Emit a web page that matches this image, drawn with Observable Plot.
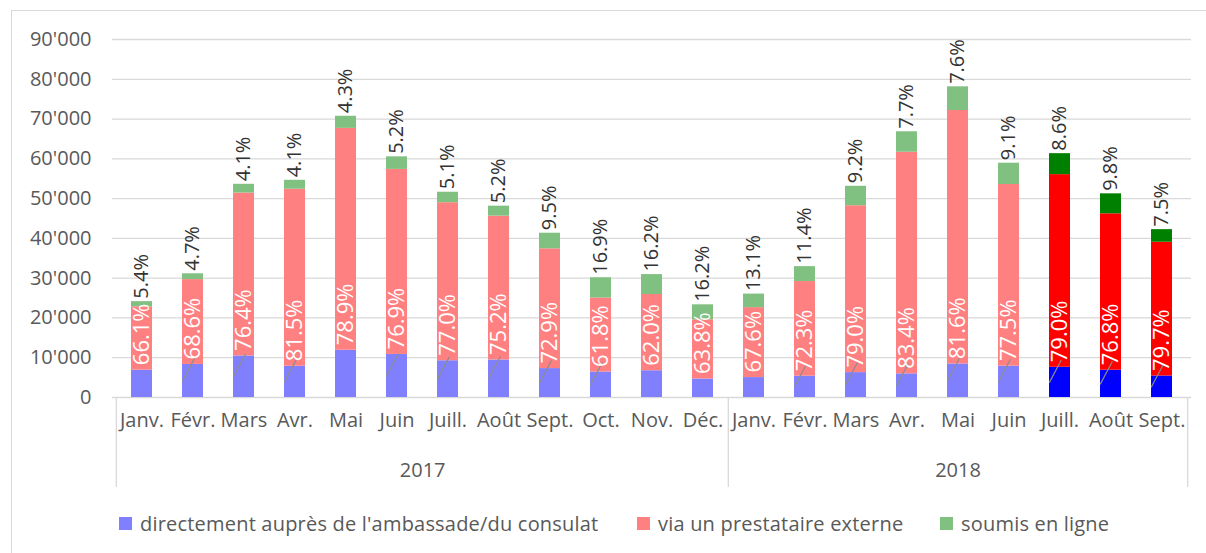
<!DOCTYPE html>
<html>
<head>
<meta charset="utf-8">
<script src="https://cdn.jsdelivr.net/npm/d3@7"></script>
<script src="https://cdn.jsdelivr.net/npm/@observablehq/plot@0.6"></script>
<style>
  html, body { margin: 0; padding: 0; background: #fff; overflow: hidden; }
  body { width: 1206px; height: 553px; position: relative; font-family: "Open Sans", sans-serif; }
  #frame { position: absolute; left: 11px; top: 10px; width: 1300px; height: 700px;
           border-left: 1.5px solid #d9d9d9; border-top: 1.5px solid #d9d9d9; pointer-events: none; }
  #chart { position: absolute; left: 0; top: 0; }
  #legend { position: absolute; left: 0; top: 505px; width: 1206px; height: 37px;
            font-size: 20px; letter-spacing: 0.2px; color: #595959; white-space: nowrap; }
  .item { position: absolute; top: 0; height: 37px; display: flex; align-items: center; }
  .sw { width: 13px; height: 13px; margin-right: 8px; }
</style>
</head>
<body>
<div id="chart"></div>
<div id="legend"></div>
<div id="frame"></div>
<script>
const months = ["Janv.","Févr.","Mars","Avr.","Mai","Juin","Juill.","Août","Sept.","Oct.","Nov.","Déc.",
                "Janv.","Févr.","Mars","Avr.","Mai","Juin","Juill.","Août","Sept."];
const years = [2017,2017,2017,2017,2017,2017,2017,2017,2017,2017,2017,2017,
               2018,2018,2018,2018,2018,2018,2018,2018,2018];
// directement auprès de l'ambassade/du consulat
const blue  = [6870, 8310, 10450, 7860, 11880, 10830, 9240, 9430, 7270, 6410, 6730, 4660,
               5010, 5360, 6260, 5950, 8430, 7890, 7600, 6860, 5400];
// via un prestataire externe
const red   = [15930, 21330, 40950, 44500, 55780, 46520, 39730, 36170, 30110, 18600, 19160, 14870,
               17580, 23790, 41950, 55710, 63730, 45650, 48430, 39320, 33630];
// soumis en ligne
const green = [1300, 1460, 2200, 2240, 3040, 3150, 2630, 2500, 3920, 5090, 5010, 3770,
               3410, 3750, 4890, 5140, 5940, 5360, 5270, 5020, 3170];
const redPct   = [66.1, 68.6, 76.4, 81.5, 78.9, 76.9, 77.0, 75.2, 72.9, 61.8, 62.0, 63.8,
                  67.6, 72.3, 79.0, 83.4, 81.6, 77.5, 79.0, 76.8, 79.7];
const greenPct = [5.4, 4.7, 4.1, 4.1, 4.3, 5.2, 5.1, 5.2, 9.5, 16.9, 16.2, 16.2,
                  13.1, 11.4, 9.2, 7.7, 7.6, 9.1, 8.6, 9.8, 7.5];
const highlighted = [0,0,0,0,0,0,0,0,0,0,0,0, 0,0,0,0,0,0,1,1,1];
const leader      = [0,1,1,1,0,1,1,1,1,1,0,0, 0,1,1,1,1,1,1,1,1];
const yTicks = [0, 10000, 20000, 30000, 40000, 50000, 60000, 70000, 80000, 90000];
const seriesNames = ["directement auprès de l'ambassade/du consulat", "via un prestataire externe", "soumis en ligne"];
const strongColors = ["#0000FF", "#FF0000", "#008000"];
const lightColors  = ["#8080FF", "#FF8080", "#80C080"];

const W = 1206, H = 500, ML = 112, MR = 15, MT = 39, MB = 103;
const keys = months.map((m, i) => `${years[i]} ${m}`);
const step = (W - ML - MR) / keys.length;
const bw = step * 0.41;

const rows = keys.map((k, i) => ({
  key: k, month: months[i], year: years[i],
  blue: blue[i], red: red[i], green: green[i],
  total: blue[i] + red[i] + green[i],
  redPct: redPct[i], greenPct: greenPct[i],
  hi: highlighted[i], leader: leader[i]
}));
const long = [];
rows.forEach(r => {
  [r.blue, r.red, r.green].forEach((v, s) => {
    long.push({key: r.key, series: seriesNames[s], value: v, color: (r.hi ? strongColors : lightColors)[s]});
  });
});

const monthOf = new Map(rows.map(r => [r.key, r.month]));
const fmt = d3.formatLocale({decimal: ".", thousands: "'", grouping: [3], currency: ["", ""]}).format(",d");

const yearList = Array.from(new Set(years));
const yearMarks = yearList.map(y => {
  const idx = years.map((v, i) => v === y ? i : -1).filter(i => i >= 0);
  const mid = (idx[0] + idx[idx.length - 1]) / 2;
  const base = Math.floor(mid);
  return Plot.text([String(y)], {x: () => keys[base], frameAnchor: "bottom", lineAnchor: "top",
    dy: 65, dx: (mid - base) * step, fontSize: 20, fill: "#595959"});
});
const groupStarts = yearList.map(y => keys[years.indexOf(y)]);

const chart = Plot.plot({
  width: W, height: H,
  marginLeft: ML, marginRight: MR, marginTop: MT, marginBottom: MB,
  style: {fontFamily: "'Open Sans', sans-serif", background: "transparent", overflow: "visible"},
  x: {type: "band", domain: keys, paddingInner: 0.59, paddingOuter: 0.295, axis: null, label: null},
  y: {domain: [0, 90000], axis: null, label: null},
  marks: [
    Plot.ruleY(yTicks, {stroke: "#d9d9d9", strokeWidth: 1.3}),
    Plot.barY(long, {x: "key", y: "value", z: "series", fill: "color"}),
    Plot.vector(rows.filter(r => r.leader), {x: "key", y: d => d.blue / 2, dx: -bw / 2, length: 25, rotate: 28,
      anchor: "start", shape: "spike", r: 0, stroke: "#8c8c8c", fill: "none", strokeWidth: 1.2}),
    Plot.text(rows, {x: "key", y: "blue", text: d => d.redPct.toFixed(1) + "%", rotate: -90,
      textAnchor: "start", dy: -5, fill: "white", fontSize: 22}),
    Plot.text(rows, {x: "key", y: "total", text: d => d.greenPct.toFixed(1) + "%", rotate: -90,
      textAnchor: "start", dy: -3, fill: "#333333", fontSize: 20}),
    Plot.axisY(yTicks, {tickSize: 0, tickPadding: 21, tickFormat: fmt, fontSize: 20, fill: "#595959", label: null}),
    Plot.axisX({tickSize: 0, tickPadding: 15, tickFormat: k => monthOf.get(k), fontSize: 20, fill: "#595959", label: null}),
    Plot.axisX(groupStarts, {tickSize: 90, dx: -step / 2, tickFormat: () => "", stroke: "#d9d9d9", strokeWidth: 1.3, label: null}),
    Plot.axisX([keys[keys.length - 1]], {tickSize: 90, dx: step / 2, tickFormat: () => "", stroke: "#d9d9d9", strokeWidth: 1.3, label: null}),
    ...yearMarks
  ]
});
document.getElementById("chart").appendChild(chart);

const legend = document.getElementById("legend");
const legendLeft = [119, 637, 940];
seriesNames.forEach((name, i) => {
  const item = document.createElement("div");
  item.className = "item";
  item.style.left = legendLeft[i] + "px";
  const sw = document.createElement("div");
  sw.className = "sw";
  sw.style.background = lightColors[i];
  const t = document.createElement("span");
  t.textContent = name;
  item.appendChild(sw);
  item.appendChild(t);
  legend.appendChild(item);
});
</script>
</body>
</html>
